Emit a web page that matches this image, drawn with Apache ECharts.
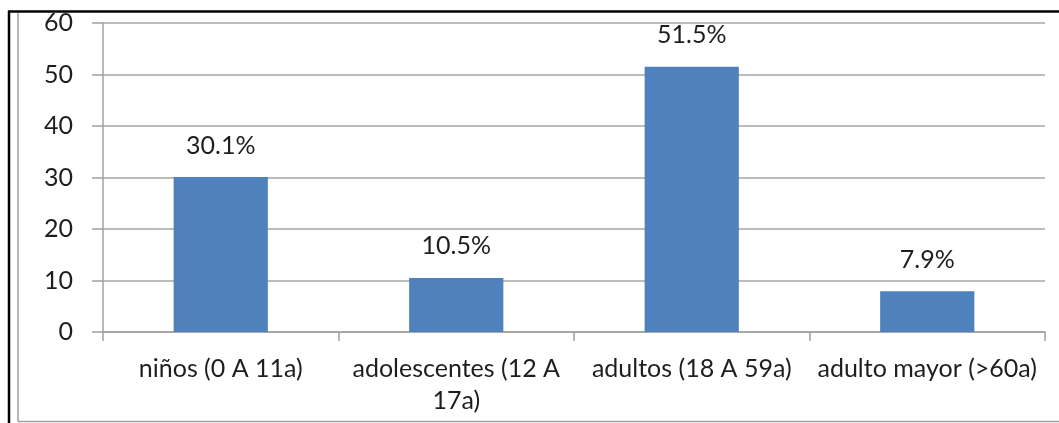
<!DOCTYPE html>
<html>
<head>
<meta charset="utf-8">
<script src="https://cdn.jsdelivr.net/npm/echarts@6/dist/echarts.min.js"></script>
<style>
  html, body { margin: 0; padding: 0; background: #ffffff; }
  #chart { width: 1059px; height: 423px; }
</style>
</head>
<body>
<div id="chart"></div>
<script>
// Age groups and their share of cases (%)
const categories = ['niños (0 A 11a)', 'adolescentes (12 A\n17a)', 'adultos (18 A 59a)', 'adulto mayor (>60a)'];
const values = [30.1, 10.5, 51.5, 7.9];
const yTicks = [0, 10, 20, 30, 40, 50, 60];

const FONT = 'Lato';
const TEXT = '#1e1e1e';

const chart = echarts.init(document.getElementById('chart'));
chart.setOption({
  animation: false,
  backgroundColor: '#ffffff',
  grid: { left: 103, right: 14, top: 23, bottom: 91, containLabel: false },
  xAxis: {
    type: 'category',
    data: categories,
    axisLine: { lineStyle: { color: '#a0a0a0', width: 1.5 } },
    axisTick: { show: true, length: 9, lineStyle: { color: '#a0a0a0', width: 1.5 } },
    axisLabel: {
      color: TEXT, fontFamily: FONT, fontSize: 25, margin: 21,
      lineHeight: 32, interval: 0
    }
  },
  yAxis: {
    type: 'value',
    min: yTicks[0],
    max: yTicks[yTicks.length - 1],
    interval: 10,
    axisLine: { show: true, lineStyle: { color: '#a0a0a0', width: 1.5 } },
    axisTick: { show: true, length: 11, lineStyle: { color: '#a0a0a0', width: 1.5 } },
    axisLabel: { color: TEXT, fontFamily: FONT, fontSize: 25, margin: 30 },
    splitLine: { show: true, lineStyle: { color: '#a6a6a6', width: 1.5 } }
  },
  series: [{
    type: 'bar',
    data: values,
    barWidth: '40%',
    itemStyle: { color: '#4F81BD' },
    label: {
      show: true,
      position: 'top',
      distance: 19,
      color: TEXT,
      fontFamily: FONT,
      fontSize: 25,
      formatter: p => p.value.toFixed(1) + '%'
    }
  }],
  graphic: [
    // outer frame: black top and left edges
    { type: 'line', shape: { x1: 8, y1: 11.5, x2: 1059, y2: 11.5 }, style: { stroke: '#000', lineWidth: 2.5 }, silent: true },
    { type: 'line', shape: { x1: 9, y1: 11, x2: 9, y2: 423 }, style: { stroke: '#000', lineWidth: 2.5 }, silent: true },
    // inner grey frame
    { type: 'line', shape: { x1: 18, y1: 13, x2: 18, y2: 421.5 }, style: { stroke: '#a0a0a0', lineWidth: 1.5 }, silent: true },
    { type: 'line', shape: { x1: 18, y1: 421.5, x2: 1059, y2: 421.5 }, style: { stroke: '#a0a0a0', lineWidth: 1.5 }, silent: true }
  ]
});
</script>
</body>
</html>
